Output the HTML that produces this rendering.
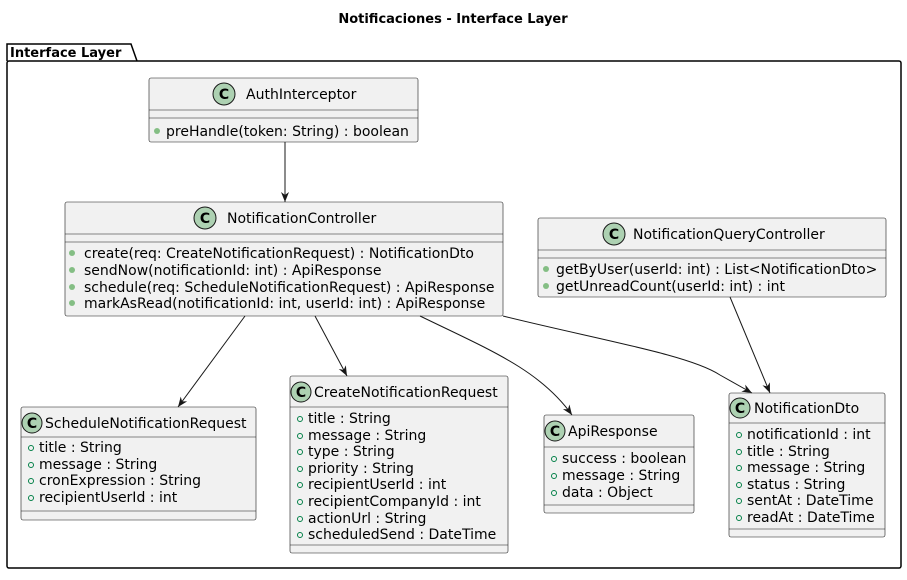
<!DOCTYPE html>
<html><head><meta charset="utf-8"><style>
html,body{margin:0;padding:0;background:#fff}
svg text{font-family:"DejaVu Sans","Liberation Sans",sans-serif;font-size:14px;fill:#000}
.b{fill:#f1f1f1;stroke:#181818;stroke-width:0.6}
.s{stroke:#181818;stroke-width:0.6}
.ln{stroke:#181818;stroke-width:1;fill:none}
.ic{fill:#add1b2;stroke:#181818;stroke-width:1}
.ct{font-weight:bold;font-size:14px}
.tt{font-weight:bold;font-size:13px}
</style></head><body>
<svg width="907" height="575" viewBox="0 0 907 575" xmlns="http://www.w3.org/2000/svg">
<defs><marker id="a" viewBox="0 0 10 10" refX="10" refY="5" markerWidth="10" markerHeight="10" orient="auto" markerUnits="userSpaceOnUse"><path d="M0,1 L10,5 L0,9 L3,5 Z" fill="#181818"/></marker></defs>
<text class="tt" x="453" y="23" text-anchor="middle">Notificaciones - Interface Layer</text>
<path d="M7 61 L7 44 L131 44 L137 61" fill="none" stroke="#000" stroke-width="1.5"/>
<rect x="7" y="61" width="894" height="507" rx="2" fill="none" stroke="#000" stroke-width="1.5"/>
<text class="tt" x="10" y="57">Interface Layer</text>

<!-- AuthInterceptor -->
<rect class="b" x="149" y="78" width="269" height="64" rx="2"/>
<line class="s" x1="149" y1="110" x2="418" y2="110"/><line class="s" x1="149" y1="118" x2="418" y2="118"/>
<circle class="ic" cx="224" cy="94" r="11"/><text class="ct" x="224" y="99" text-anchor="middle">C</text>
<text x="246" y="99">AuthInterceptor</text>
<circle cx="157" cy="131" r="3" fill="#84be84"/><text x="166" y="136">preHandle(token: String) : boolean</text>

<!-- NotificationController -->
<rect class="b" x="65" y="202" width="438" height="114" rx="2"/>
<line class="s" x1="65" y1="234" x2="503" y2="234"/><line class="s" x1="65" y1="242" x2="503" y2="242"/>
<circle class="ic" cx="205" cy="218" r="11"/><text class="ct" x="205" y="223" text-anchor="middle">C</text>
<text x="227" y="223">NotificationController</text>
<g><circle cx="72" cy="253" r="3" fill="#84be84"/><text x="84" y="258">create(req: CreateNotificationRequest) : NotificationDto</text>
<circle cx="72" cy="270" r="3" fill="#84be84"/><text x="84" y="275">sendNow(notificationId: int) : ApiResponse</text>
<circle cx="72" cy="287" r="3" fill="#84be84"/><text x="84" y="292">schedule(req: ScheduleNotificationRequest) : ApiResponse</text>
<circle cx="72" cy="303" r="3" fill="#84be84"/><text x="84" y="308">markAsRead(notificationId: int, userId: int) : ApiResponse</text></g>

<!-- NotificationQueryController -->
<rect class="b" x="538" y="218" width="348" height="79" rx="2"/>
<line class="s" x1="538" y1="250" x2="886" y2="250"/><line class="s" x1="538" y1="258" x2="886" y2="258"/>
<circle class="ic" cx="614" cy="234" r="11"/><text class="ct" x="614" y="239" text-anchor="middle">C</text>
<text x="633" y="239">NotificationQueryController</text>
<circle cx="546" cy="269" r="3" fill="#84be84"/><text x="556" y="274">getByUser(userId: int) : List&lt;NotificationDto&gt;</text>
<circle cx="546" cy="286" r="3" fill="#84be84"/><text x="556" y="291">getUnreadCount(userId: int) : int</text>

<!-- ScheduleNotificationRequest -->
<rect class="b" x="21" y="407" width="235" height="113" rx="2"/>
<line class="s" x1="21" y1="437" x2="256" y2="437"/><line class="s" x1="21" y1="511" x2="256" y2="511"/>
<circle class="ic" cx="32" cy="423" r="10"/><text class="ct" x="32" y="428" text-anchor="middle">C</text>
<text x="45" y="428">ScheduleNotificationRequest</text>
<g fill="none" stroke="#038048"><circle cx="31" cy="448" r="2.5"/><circle cx="31" cy="465" r="2.5"/><circle cx="31" cy="481" r="2.5"/><circle cx="31" cy="498" r="2.5"/></g>
<text x="39" y="452">title : String</text><text x="39" y="469">message : String</text><text x="39" y="485">cronExpression : String</text><text x="39" y="502">recipientUserId : int</text>

<!-- CreateNotificationRequest -->
<rect class="b" x="290" y="376" width="218" height="177" rx="2"/>
<line class="s" x1="290" y1="407" x2="508" y2="407"/><line class="s" x1="290" y1="545" x2="508" y2="545"/>
<circle class="ic" cx="301" cy="392" r="10"/><text class="ct" x="301" y="397" text-anchor="middle">C</text>
<text x="314" y="397">CreateNotificationRequest</text>
<g fill="none" stroke="#038048"><circle cx="300" cy="419" r="2.5"/><circle cx="300" cy="436" r="2.5"/><circle cx="300" cy="452" r="2.5"/><circle cx="300" cy="469" r="2.5"/><circle cx="300" cy="485" r="2.5"/><circle cx="300" cy="502" r="2.5"/><circle cx="300" cy="519" r="2.5"/><circle cx="300" cy="535" r="2.5"/></g>
<text x="308" y="423">title : String</text><text x="308" y="440">message : String</text><text x="308" y="456">type : String</text><text x="308" y="473">priority : String</text><text x="308" y="489">recipientUserId : int</text><text x="308" y="506">recipientCompanyId : int</text><text x="308" y="523">actionUrl : String</text><text x="308" y="539">scheduledSend : DateTime</text>

<!-- ApiResponse -->
<rect class="b" x="544" y="415" width="150" height="98" rx="2"/>
<line class="s" x1="544" y1="447" x2="694" y2="447"/><line class="s" x1="544" y1="505" x2="694" y2="505"/>
<circle class="ic" cx="555" cy="431" r="10"/><text class="ct" x="555" y="436" text-anchor="middle">C</text>
<text x="568" y="436">ApiResponse</text>
<g fill="none" stroke="#038048"><circle cx="554" cy="459" r="2.5"/><circle cx="554" cy="476" r="2.5"/><circle cx="554" cy="493" r="2.5"/></g>
<text x="562" y="463">success : boolean</text><text x="562" y="480">message : String</text><text x="562" y="497">data : Object</text>

<!-- NotificationDto -->
<rect class="b" x="729" y="393" width="156" height="144" rx="2"/>
<line class="s" x1="729" y1="423" x2="885" y2="423"/><line class="s" x1="729" y1="529" x2="885" y2="529"/>
<circle class="ic" cx="740" cy="408" r="10"/><text class="ct" x="740" y="413" text-anchor="middle">C</text>
<text x="754" y="413">NotificationDto</text>
<g fill="none" stroke="#038048"><circle cx="739" cy="435" r="2.5"/><circle cx="739" cy="452" r="2.5"/><circle cx="739" cy="468" r="2.5"/><circle cx="739" cy="485" r="2.5"/><circle cx="739" cy="501" r="2.5"/><circle cx="739" cy="518" r="2.5"/></g>
<text x="747" y="439">notificationId : int</text><text x="747" y="456">title : String</text><text x="747" y="472">message : String</text><text x="747" y="489">status : String</text><text x="747" y="505">sentAt : DateTime</text><text x="747" y="522">readAt : DateTime</text>

<!-- arrows -->
<path class="ln" d="M285 142 L285 202" marker-end="url(#a)"/>
<path class="ln" d="M245 316 L178 407" marker-end="url(#a)"/>
<path class="ln" d="M315 316 L347 376" marker-end="url(#a)"/>
<path class="ln" d="M420 316 C490 350 540 370 572 415" marker-end="url(#a)"/>
<path class="ln" d="M503 316 C600 340 690 355 720 375 L752 393" marker-end="url(#a)"/>
<path class="ln" d="M730 297 L770 393" marker-end="url(#a)"/>
</svg>
</body></html>
